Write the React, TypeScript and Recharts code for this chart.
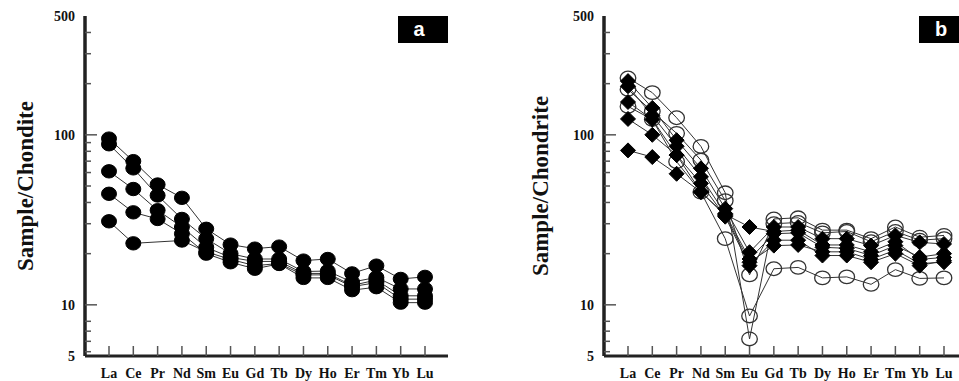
import React from 'react';
import { LineChart, Line, XAxis, YAxis } from 'recharts';

// ---------- categories & ticks ----------
const elements = ['La', 'Ce', 'Pr', 'Nd', 'Sm', 'Eu', 'Gd', 'Tb', 'Dy', 'Ho', 'Er', 'Tm', 'Yb', 'Lu'];
const yTicksLeft = [5, 5.3, 6.1, 7, 8, 10, 20, 30, 40, 50, 60, 70, 80, 90, 100, 200, 300, 400, 500];
const yTicksRight = [5, 6, 7, 8, 9, 10, 20, 30, 40, 50, 60, 70, 80, 90, 100, 200, 300, 400, 500];
const yLabelled = [5, 10, 100, 500];

// ---------- panel a (filled circles) ----------
const a1 = [95, 70, 51, 42.6, 28, 22.6, 21.4, 22, 18.2, 18.6, 15.3, 17, 14.2, 14.6];
const a2 = [88, 63.5, 44, 32, 24.5, 20, 18.6, 18.6, 15.7, 15.8, 13.6, 14.5, 12.4, 12.4];
const a3 = [61, 48, 36, 28.7, 21.8, 19, 18, 18, 15.3, 15.3, 13, 14, 11.3, 11.3];
const a4 = [45, 35, 32, 26.2, 20, 17.8, 16.3, 17.4, 14.4, 14.4, 12.2, 12.7, 10.3, 10.3];
const a5 = [31, 23, null, 23.9, 20.5, 18.5, 17, 17.5, 15, 15, 12.8, 13.5, 10.8, 10.8];

// ---------- panel b (open circles) ----------
const c1 = [216, 177, 126, 85.5, 45.6, 6.3, 32, 32.5, 27.5, 27.5, 24.5, 28.7, 25, 25.6];
const c2 = [185, 137, 102, 71, 41, 15, 30, 30.5, 26.5, 27, 23.5, 27, 24, 24.5];
const c3 = [147, 123, 69.5, 46, 24.5, 8.6, 16.3, 16.6, 14.4, 14.6, 13.2, 16.1, 14.3, 14.4];
// ---------- panel b (filled diamonds) ----------
const d1 = [207, 144, 93, 63.5, 36.8, 20.4, 28.7, 28.7, 24.5, 24.5, 22.3, 25.6, 23.3, 22.8];
const d2 = [193, 130, 85.6, 56.6, 34.4, 18.6, 26.2, 26.5, 21.8, 21.5, 19.5, 22.3, 19.1, 20];
const d3 = [156, 123, 76, 51.8, 33, 17, 24, 24, 19.5, 19.5, 17.8, 20, 17, 18.2];
const d4 = [124, 100, 76, 46.2, 33.5, 17.8, 22.3, 22.5, 20.5, 20.5, 18.5, 21, 17.5, 17.8];
const d5 = [81, 74, 59, 46, 34, 28.7, 27, 27.5, 22.5, 22.5, 20.5, 23.5, 18.5, 19];

const dataA = elements.map((el, i) => ({ el, a1: a1[i], a2: a2[i], a3: a3[i], a4: a4[i], a5: a5[i] }));
const dataB = elements.map((el, i) => ({
  el, c1: c1[i], c2: c2[i], c3: c3[i], d1: d1[i], d2: d2[i], d3: d3[i], d4: d4[i], d5: d5[i],
}));

const SERIF = '"Liberation Serif", "Times New Roman", Times, serif';
const SANS = '"Liberation Sans", Arial, Helvetica, sans-serif';
const TICK_COLOR = '#555';

// ---------- tick renderers ----------
const LeftTick = (props: any) => {
  const { x, y, payload } = props;
  const v = payload.value;
  const major = yLabelled.includes(v);
  return (
    <g>
      {v !== 5 && v !== 500 && (
        <line x1={x} x2={x + (major ? 12 : 6)} y1={y} y2={y} stroke={TICK_COLOR} strokeWidth={1.5} />
      )}
      {major && (
        <text x={x - 10} y={y} dy="0.35em" textAnchor="end" fontFamily={SERIF} fontWeight="bold" fontSize={14} fill="#111">
          {v}
        </text>
      )}
    </g>
  );
};

const RightTick = (props: any) => {
  const { x, y, payload } = props;
  const v = payload.value;
  const major = yLabelled.includes(v);
  if (v === 5 || v === 500) return <g />;
  return <line x1={x} x2={x - (major ? 12 : 5)} y1={y} y2={y} stroke={TICK_COLOR} strokeWidth={1.5} />;
};

const BottomTick = (props: any) => {
  const { x, y, payload } = props;
  return (
    <g>
      <line x1={x} x2={x} y1={y} y2={y - 10} stroke={TICK_COLOR} strokeWidth={1.5} />
      <text x={x} y={y + 22} textAnchor="middle" fontFamily={SERIF} fontWeight="bold" fontSize={14} fill="#111">
        {payload.value}
      </text>
    </g>
  );
};

const TopTick = (props: any) => {
  const { x, y } = props;
  return <line x1={x} x2={x} y1={y} y2={y + 10} stroke={TICK_COLOR} strokeWidth={1.5} />;
};

// ---------- dots ----------
const FilledCircle = (p: any) => {
  if (p.cy == null || p.value == null || isNaN(p.cy)) return <g key={`e-${p.index}`} />;
  return <ellipse key={`fc-${p.index}`} cx={p.cx} cy={p.cy} rx={7.5} ry={6.7} fill="#000" stroke="#000" />;
};
const OpenCircle = (p: any) => {
  if (p.cy == null || p.value == null || isNaN(p.cy)) return <g key={`e-${p.index}`} />;
  return <ellipse key={`oc-${p.index}`} cx={p.cx} cy={p.cy} rx={7.8} ry={6.8} fill="none" stroke="#333" strokeWidth={1.3} />;
};
const Diamond = (p: any) => {
  if (p.cy == null || p.value == null || isNaN(p.cy)) return <g key={`e-${p.index}`} />;
  const { cx, cy } = p;
  const h = 7.5;
  return (
    <polygon
      key={`dm-${p.index}`}
      points={`${cx},${cy - h} ${cx + h},${cy} ${cx},${cy + h} ${cx - h},${cy}`}
      fill="#000"
      stroke="#000"
    />
  );
};

const yTitle = (text: string, dx: number) => (props: any) => {
  const vb = props.viewBox || {};
  const cx = (vb.x ?? 0) + dx;
  const cy = (vb.y ?? 0) + (vb.height ?? 0) / 2;
  return (
    <text
      x={cx}
      y={cy}
      transform={`rotate(-90 ${cx} ${cy})`}
      textAnchor="middle"
      dominantBaseline="central"
      fontFamily={SERIF}
      fontWeight="bold"
      fontSize={23}
      fill="#111"
    >
      {text}
    </text>
  );
};

function Axes({ leftWidth, title, titleDx }: { leftWidth: number; title: string; titleDx: number }) {
  return null;
}

const panelBox = (left: number, letter: string, letterShift: number) => (
  <div
    style={{
      position: 'absolute',
      left,
      top: 16,
      width: 50,
      height: 27,
      background: '#000',
      color: '#fff',
      fontFamily: SANS,
      fontWeight: 'bold',
      fontSize: 20,
      lineHeight: '27px',
      textAlign: 'center',
    }}
  >
    <span style={{ position: 'relative', left: letterShift }}>{letter}</span>
  </div>
);

export default function App() {
  const commonLine = { type: 'linear' as const, stroke: '#333', strokeWidth: 1, isAnimationActive: false, activeDot: false };
  return (
    <div style={{ position: 'absolute', left: 0, top: 0, width: 959, height: 381, overflow: 'hidden', background: '#fff' }}>
      {/* Panel a */}
      <div style={{ position: 'absolute', left: 0, top: 0 }}>
        <LineChart width={480} height={381} data={dataA} margin={{ top: 16, right: 32, bottom: 0, left: 0 }}>
          <XAxis
            dataKey="el"
            interval={0}
            padding={{ left: 24, right: 23 }}
            height={25}
            tickSize={0}
            tickMargin={0}
            tickLine={false}
            tick={BottomTick}
            axisLine={{ stroke: '#222', strokeWidth: 3 }}
          />
          <XAxis
            xAxisId="top"
            orientation="top"
            dataKey="el"
            interval={0}
            padding={{ left: 24, right: 23 }}
            height={0}
            tickSize={0}
            tickMargin={0}
            tickLine={false}
            tick={TopTick}
            axisLine={{ stroke: '#777', strokeWidth: 1.5 }}
          />
          <YAxis
            type="number"
            scale="log"
            domain={[5, 500]}
            allowDataOverflow
            ticks={yTicksLeft}
            interval={0}
            width={85}
            tickSize={0}
            tickMargin={0}
            tickLine={false}
            tick={LeftTick}
            axisLine={{ stroke: '#222', strokeWidth: 3.5 }}
            label={yTitle('Sample/Chondite', 25)}
          />
          <YAxis
            yAxisId="right"
            orientation="right"
            type="number"
            scale="log"
            domain={[5, 500]}
            allowDataOverflow
            ticks={yTicksRight}
            interval={0}
            width={0}
            tickSize={0}
            tickMargin={0}
            tickLine={false}
            tick={RightTick}
            axisLine={{ stroke: '#777', strokeWidth: 1.5 }}
          />
          <Line dataKey="a5" {...commonLine} connectNulls dot={FilledCircle} />
          <Line dataKey="a4" {...commonLine} dot={FilledCircle} />
          <Line dataKey="a3" {...commonLine} dot={FilledCircle} />
          <Line dataKey="a2" {...commonLine} dot={FilledCircle} />
          <Line dataKey="a1" {...commonLine} dot={FilledCircle} />
        </LineChart>
        {panelBox(398, 'a', -4)}
      </div>

      {/* Panel b */}
      <div style={{ position: 'absolute', left: 480, top: 0 }}>
        <LineChart width={520} height={381} data={dataB} margin={{ top: 16, right: 33, bottom: 0, left: 0 }}>
          <XAxis
            dataKey="el"
            interval={0}
            padding={{ left: 24, right: 23 }}
            height={25}
            tickSize={0}
            tickMargin={0}
            tickLine={false}
            tick={BottomTick}
            axisLine={{ stroke: '#222', strokeWidth: 3 }}
          />
          <XAxis
            xAxisId="top"
            orientation="top"
            dataKey="el"
            interval={0}
            padding={{ left: 24, right: 23 }}
            height={0}
            tickSize={0}
            tickMargin={0}
            tickLine={false}
            tick={TopTick}
            axisLine={{ stroke: '#777', strokeWidth: 1.5 }}
          />
          <YAxis
            type="number"
            scale="log"
            domain={[5, 500]}
            allowDataOverflow
            ticks={yTicksLeft}
            interval={0}
            width={124}
            tickSize={0}
            tickMargin={0}
            tickLine={false}
            tick={LeftTick}
            axisLine={{ stroke: '#222', strokeWidth: 3.5 }}
            label={yTitle('Sample/Chondrite', 60)}
          />
          <YAxis
            yAxisId="right"
            orientation="right"
            type="number"
            scale="log"
            domain={[5, 500]}
            allowDataOverflow
            ticks={yTicksRight}
            interval={0}
            width={0}
            tickSize={0}
            tickMargin={0}
            tickLine={false}
            tick={RightTick}
            axisLine={{ stroke: '#777', strokeWidth: 1.5 }}
          />
          <Line dataKey="c3" {...commonLine} dot={OpenCircle} />
          <Line dataKey="c2" {...commonLine} dot={OpenCircle} />
          <Line dataKey="c1" {...commonLine} dot={OpenCircle} />
          <Line dataKey="d5" {...commonLine} dot={Diamond} />
          <Line dataKey="d4" {...commonLine} dot={Diamond} />
          <Line dataKey="d3" {...commonLine} dot={Diamond} />
          <Line dataKey="d2" {...commonLine} dot={Diamond} />
          <Line dataKey="d1" {...commonLine} dot={Diamond} />
        </LineChart>
        {panelBox(439, 'b', -3)}
      </div>
    </div>
  );
}
